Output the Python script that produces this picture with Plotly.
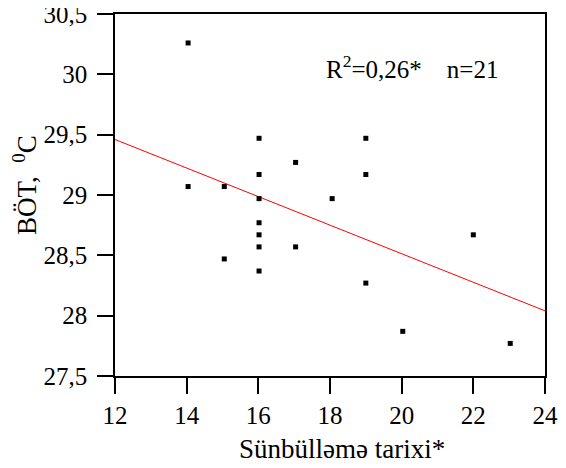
import plotly.graph_objects as go

x_vals = [14.04, 14.04, 15.05, 15.05, 16.02, 16.02, 16.02, 16.02, 16.02, 16.02, 16.02,
          17.04, 17.04, 18.06, 19.0, 19.0, 19.0, 20.03, 22.0, 23.03]
y_vals = [30.26, 29.07, 29.07, 28.47, 29.47, 29.17, 28.97, 28.77, 28.67, 28.57, 28.37,
          29.27, 28.57, 28.97, 29.47, 29.17, 28.27, 27.87, 28.67, 27.77]
trend_x = [12, 24]
trend_y = [29.46, 28.04]
x_ticks = [12, 14, 16, 18, 20, 22, 24]
y_ticks = [27.5, 28, 28.5, 29, 29.5, 30, 30.5]
y_ticktext = ["27,5", "28", "28,5", "29", "29,5", "30", "30,5"]

FONT = "Liberation Serif, Times New Roman, serif"
OFF = 8  # page body margin

L, T, W, H = 115 - OFF, 14 - OFF, 430, 362


def px(xp):
    return (xp - 115) / W


def py(yp):
    return (376 - yp) / H


fig = go.Figure()
fig.add_trace(go.Scatter(x=trend_x, y=trend_y, mode="lines",
                         line=dict(color="#ff0000", width=1), showlegend=False))
fig.add_trace(go.Scatter(x=x_vals, y=y_vals, mode="markers",
                         marker=dict(symbol="square", size=5, color="black"),
                         showlegend=False))

fig.update_layout(
    template="none",
    width=566, height=468,
    margin=dict(l=L, r=566 - L - W, t=T, b=468 - T - H),
    paper_bgcolor="white", plot_bgcolor="white",
    font=dict(family=FONT, size=25, color="black"),
    xaxis=dict(range=[12, 24], tickvals=x_ticks, ticks="outside", ticklen=16,
               tickwidth=1.5, tickcolor="black", showline=True, linecolor="black",
               linewidth=1.5, mirror=True, showgrid=False, zeroline=False,
               automargin=False, ticklabeloverflow="allow",
               tickfont=dict(family=FONT, size=25)),
    yaxis=dict(range=[27.5, 30.5], tickvals=y_ticks, ticktext=y_ticktext,
               ticks="outside", ticklen=16, tickwidth=1.5, tickcolor="black",
               showline=True, linecolor="black", linewidth=1.5, mirror=True,
               showgrid=False, zeroline=False, automargin=False,
               ticklabeloverflow="allow", ticklabelstandoff=5,
               tickfont=dict(family=FONT, size=25)),
    annotations=[
        dict(text="R<sup>2</sup>=0,26*    n=21", xref="paper", yref="paper",
             x=px(411.5), y=py(67), showarrow=False,
             xanchor="center", yanchor="middle", font=dict(family=FONT, size=25)),
        dict(text="Sünbülləmə tarixi*", xref="paper", yref="paper",
             x=px(341.5), y=py(449), showarrow=False,
             xanchor="center", yanchor="middle", font=dict(family=FONT, size=27)),
        dict(text="BÖT,  <sup>0</sup>C", xref="paper", yref="paper",
             x=px(25), y=py(185), showarrow=False, textangle=-90,
             xanchor="center", yanchor="middle", font=dict(family=FONT, size=27)),
    ],
)

fig.write_html("out.html")
